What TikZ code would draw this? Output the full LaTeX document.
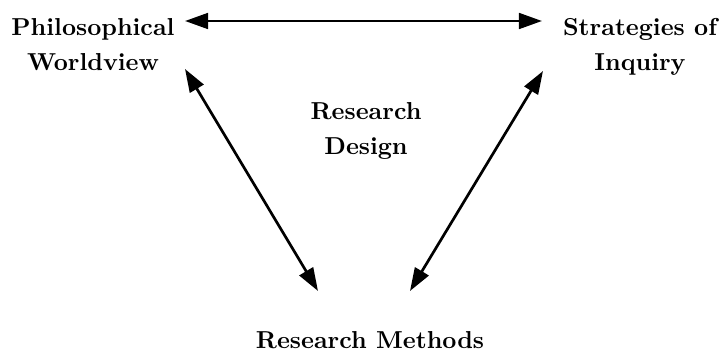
\documentclass[tikz,border=0pt]{standalone}
\usetikzlibrary{arrows.meta}
\begin{document}
\begin{tikzpicture}[x=0.408pt,y=-0.408pt,
  lbl/.style={font=\bfseries\linespread{1.22}\selectfont,align=center,inner sep=0pt,anchor=base},
  link/.style={line width=1.1pt,{Triangle[length=9.4pt,width=6.4pt]}-{Triangle[length=9.4pt,width=6.4pt]}}]
\useasboundingbox (0,0) rectangle (722,352);
\node[lbl] (pw) at (93,71) {Philosophical\\Worldview};
\node[lbl] (si) at (640,71) {Strategies of\\Inquiry};
\node[lbl] (rd) at (366,155) {Research\\Design};
\node[lbl] (rm) at (370,348) {Research Methods};
\coordinate (t1) at (185,21);
\coordinate (t2) at (542,21);
\coordinate (l1) at (185,69);
\coordinate (l2) at (318,291);
\coordinate (r1) at (543,71);
\coordinate (r2) at (410,291);
\draw[link] (t1) -- (t2);
\draw[link] (l1) -- (l2);
\draw[link] (r1) -- (r2);
\end{tikzpicture}
\end{document}
